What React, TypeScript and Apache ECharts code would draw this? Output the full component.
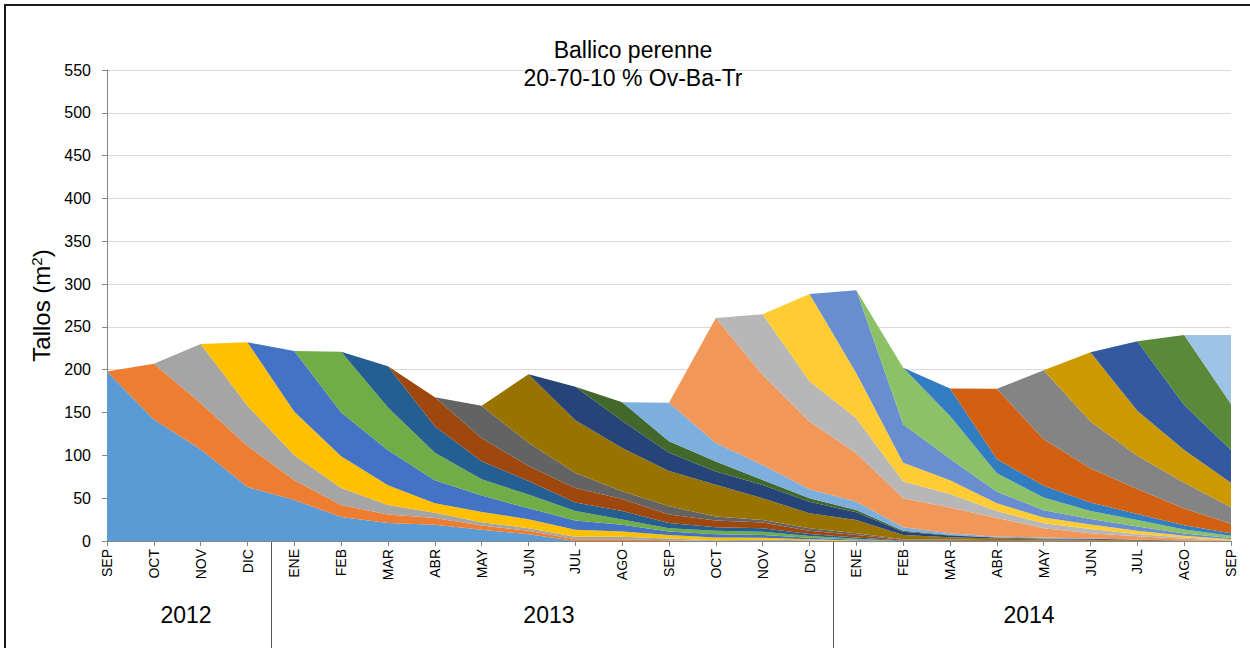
import React, { useEffect, useRef } from 'react';
import * as echarts from 'echarts';

const months = ['SEP','OCT','NOV','DIC','ENE','FEB','MAR','ABR','MAY','JUN','JUL','AGO','SEP','OCT','NOV','DIC','ENE','FEB','MAR','ABR','MAY','JUN','JUL','AGO','SEP'];
const years = ['2012', '2013', '2014'];
const yearSpans = [[0, 3], [4, 15], [16, 24]];
const titleLines = ['Ballico perenne', '20-70-10 % Ov-Ba-Tr'];
const yTicks = { min: 0, max: 550, interval: 50 };

// Each cohort (generation of tillers) by month of appearance
const gSep12 = [198,142,107,63,48,28,21,19,13,8,0,0,0,0,0,0,0,0,0,0,0,0,0,0,0];
const gOct12 = [0,65,54,48,23,14,10,8,5,4,2,2,1,0,0,0,0,0,0,0,0,0,0,0,0];
const gNov12 = [0,0,69,47,29,20,11,6,4,3,3,3,2,1,1.4,1,0,0,0,0,0,0,0,0,0];
const gDic12 = [0,0,0,74,51,37,23,11,12,10.5,8,6,4,3,2.5,1,0.5,0,0,0,0,0,0,0,0];
const gEne13 = [0,0,0,0,71,51,41,27,19,12.7,11,8,4,4,3,1.7,1,0,0,0,0,0,0,0,0];
const gFeb13 = [0,0,0,0,0,71,50,32,19,16,11,6,4,4,4,2,1,0,0,0,0,0,0,0,0];
const gMar13 = [0,0,0,0,0,0,48,31,21,16,10,10,6,4,4,2.5,1.5,0.5,0.5,0,0,0,0,0,0];
const gAbr13 = [0,0,0,0,0,0,0,34,27,17.5,17,14,10,8,6.6,3.8,3,1,1,1,0.5,0.5,0,0,0];
const gMay13 = [0,0,0,0,0,0,0,0,38,27,17.5,9,9.6,4.7,3.1,2.8,2,0.5,0.5,0,0,0,0,0,0];
const gJun13 = [0,0,0,0,0,0,0,0,0,80,61.5,50.5,41,37,25.4,17.5,15.5,5,2.5,2,1.5,1,1,0.5,0];
const gJul13 = [0,0,0,0,0,0,0,0,0,0,39,32,21.4,15.6,15.5,13.6,9,3.9,2,1,1,1,0.5,0,0];
const gAgo13 = [0,0,0,0,0,0,0,0,0,0,0,21.5,13.6,11.6,5.8,4,2.7,1.1,0.5,0,0,0,0,0,0];
const gSep13 = [0,0,0,0,0,0,0,0,0,0,0,0,44.8,21.4,17.5,10.5,9.7,4,2,1,1,0.5,0,0,0];
const gOct13 = [0,0,0,0,0,0,0,0,0,0,0,0,0,146,105,79,56.5,34,30,22,11,6,4,2,0.5];
const gNov13 = [0,0,0,0,0,0,0,0,0,0,0,0,0,0,71,47,41,19.4,16,8,5.8,5,2.8,1.5,0.5];
const gDic13 = [0,0,0,0,0,0,0,0,0,0,0,0,0,0,0,102,52.5,22,16,9,6.6,5.4,3.8,2,1];
const gEne14 = [0,0,0,0,0,0,0,0,0,0,0,0,0,0,0,0,97,45,25,13.6,8.6,6.3,4.7,2.8,1.5];
const gFeb14 = [0,0,0,0,0,0,0,0,0,0,0,0,0,0,0,0,0,66,50,21.4,14.8,9.3,7.8,4.7,2.5];
const gMar14 = [0,0,0,0,0,0,0,0,0,0,0,0,0,0,0,0,0,0,32,16.7,13.6,10,7,5,3];
const gAbr14 = [0,0,0,0,0,0,0,0,0,0,0,0,0,0,0,0,0,0,0,82,54.5,40,29,19.5,11];
const gMay14 = [0,0,0,0,0,0,0,0,0,0,0,0,0,0,0,0,0,0,0,0,80.6,54.5,39,30,19.5];
const gJun14 = [0,0,0,0,0,0,0,0,0,0,0,0,0,0,0,0,0,0,0,0,0,81,52.6,38.3,28.6];
const gJul14 = [0,0,0,0,0,0,0,0,0,0,0,0,0,0,0,0,0,0,0,0,0,0,81,52.5,38.3];
const gAgo14 = [0,0,0,0,0,0,0,0,0,0,0,0,0,0,0,0,0,0,0,0,0,0,0,81.7,53.7];
const gSep14 = [0,0,0,0,0,0,0,0,0,0,0,0,0,0,0,0,0,0,0,0,0,0,0,0,80.5];

const cohorts = [gSep12,gOct12,gNov12,gDic12,gEne13,gFeb13,gMar13,gAbr13,gMay13,gJun13,gJul13,gAgo13,gSep13,gOct13,gNov13,gDic13,gEne14,gFeb14,gMar14,gAbr14,gMay14,gJun14,gJul14,gAgo14,gSep14];
const cohortNames = ['SEP 2012','OCT 2012','NOV 2012','DIC 2012','ENE 2013','FEB 2013','MAR 2013','ABR 2013','MAY 2013','JUN 2013','JUL 2013','AGO 2013','SEP 2013','OCT 2013','NOV 2013','DIC 2013','ENE 2014','FEB 2014','MAR 2014','ABR 2014','MAY 2014','JUN 2014','JUL 2014','AGO 2014','SEP 2014'];
const colors = ['#5B9BD5','#ED7D31','#A5A5A5','#FFC000','#4472C4','#70AD47','#255E91','#9E480E','#636363','#997300','#264478','#43682B','#7CAFDD','#F1975A','#B7B7B7','#FFCD33','#698ED0','#8CC168','#327DC2','#D26012','#848484','#CC9A00','#335AA1','#5A8A39','#9DC3E6'];

export default function App() {
  const ref = useRef<HTMLDivElement>(null);
  useEffect(() => {
    const chart = echarts.init(ref.current!, undefined, { renderer: 'svg' });
    const font = "'Liberation Sans', Arial, sans-serif";
    chart.setOption({
      animation: false,
      textStyle: { fontFamily: font },
      grid: { left: 107, right: 19, top: 70, bottom: 107 },
      xAxis: {
        type: 'category',
        boundaryGap: false,
        data: months,
        axisLine: { lineStyle: { color: '#868686', width: 1 } },
        axisTick: { show: true, length: 5, interval: 0, lineStyle: { color: '#868686' } },
        axisLabel: { rotate: 90, interval: 0, fontSize: 14, color: '#000', margin: 8, fontFamily: font },
        splitLine: { show: false },
      },
      yAxis: {
        type: 'value',
        min: yTicks.min,
        max: yTicks.max,
        interval: yTicks.interval,
        name: 'Tallos (m{sup|2})',
        nameLocation: 'middle',
        nameGap: 50,
        nameTextStyle: {
          fontSize: 24,
          color: '#000',
          fontFamily: font,
          rich: { sup: { fontSize: 15, color: '#000', fontFamily: font, verticalAlign: 'top', lineHeight: 14 } },
        },
        axisLine: { show: true, lineStyle: { color: '#868686', width: 1 } },
        axisTick: { show: true, length: 5, lineStyle: { color: '#868686' } },
        axisLabel: { fontSize: 16, color: '#000', margin: 16, fontFamily: font },
        splitLine: { show: true, lineStyle: { color: '#D9D9D9', width: 1 } },
      },
      series: cohorts.map((d, i) => ({
        name: cohortNames[i],
        type: 'line',
        stack: 'total',
        data: d,
        symbol: 'none',
        silent: true,
        lineStyle: { width: 0, color: colors[i] },
        itemStyle: { color: colors[i] },
        areaStyle: { color: colors[i], opacity: 1 },
      })),
    });

    const px = (i: number) => chart.convertToPixel({ xAxisIndex: 0 }, i) as number;
    const yBase = chart.convertToPixel({ yAxisIndex: 0 }, 0) as number;
    const graphics: any[] = [];
    // outer frame (left and top)
    graphics.push({ type: 'line', shape: { x1: 5, y1: 4, x2: 5, y2: 648 }, style: { stroke: '#1a1a1a', lineWidth: 2 } });
    graphics.push({ type: 'line', shape: { x1: 4, y1: 5, x2: 1250, y2: 5 }, style: { stroke: '#1a1a1a', lineWidth: 2 } });
    // title
    titleLines.forEach((t, k) => {
      graphics.push({ type: 'text', x: 633, y: 50 + k * 28, style: { text: t, fontSize: 23, fontFamily: font, fill: '#000', textAlign: 'center', textVerticalAlign: 'middle' } });
    });
    // year groups
    const bounds: number[] = [px(yearSpans[0][0])];
    yearSpans.forEach((s, k) => {
      const right = k < yearSpans.length - 1 ? (px(s[1]) + px(yearSpans[k + 1][0])) / 2 : px(s[1]);
      bounds.push(right);
    });
    years.forEach((y, k) => {
      const cx = (bounds[k] + bounds[k + 1]) / 2 - 3;
      graphics.push({ type: 'text', x: cx, y: 615, style: { text: y, fontSize: 23, fontFamily: font, fill: '#000', textAlign: 'center', textVerticalAlign: 'middle' } });
      if (k < years.length - 1) {
        const sx = Math.round(bounds[k + 1]) + 0.5;
        graphics.push({ type: 'line', shape: { x1: sx, y1: yBase, x2: sx, y2: 648 }, style: { stroke: '#595959', lineWidth: 1 } });
      }
    });
    chart.setOption({ graphic: graphics });
    return () => chart.dispose();
  }, []);
  return <div ref={ref} style={{ position: 'absolute', left: 0, top: 0, width: 1250, height: 648 }} />;
}
